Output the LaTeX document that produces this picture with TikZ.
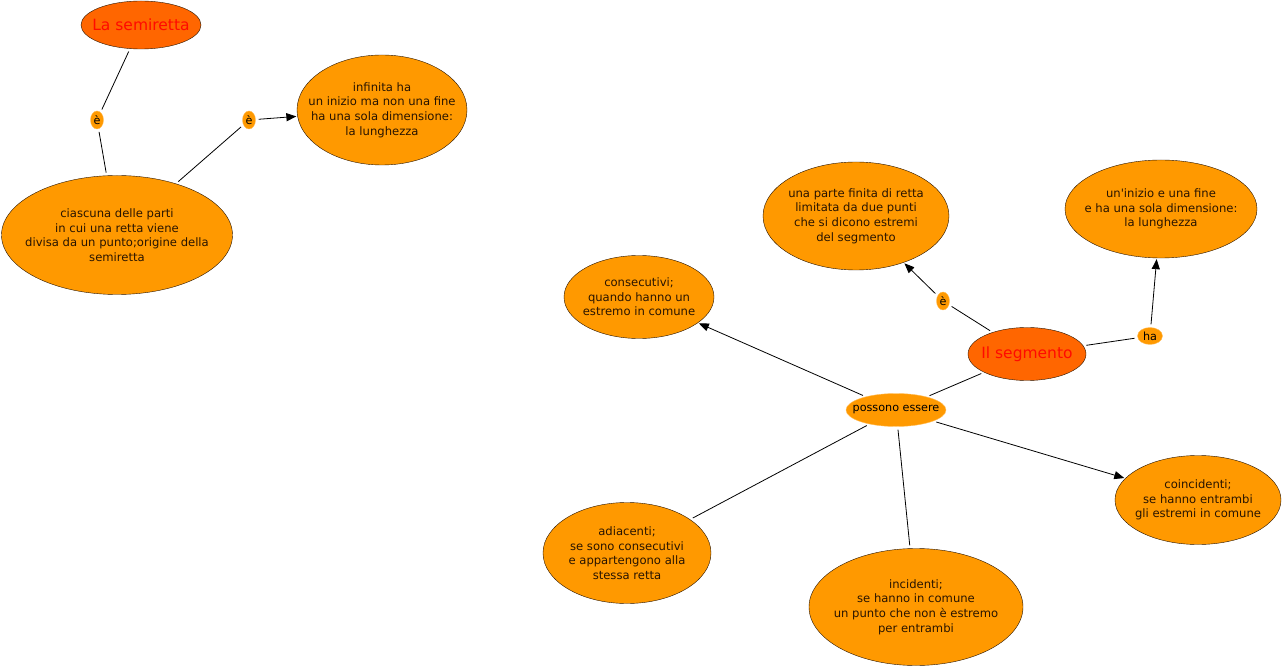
\documentclass[tikz,border=0pt]{standalone}
\usepackage{fontspec}
\setmainfont{DejaVu Sans}
\usepackage{tikz}
\usetikzlibrary{arrows.meta,shapes.geometric}
\definecolor{cmOrange}{RGB}{255,153,0}
\definecolor{cmRoot}{RGB}{255,102,0}
\definecolor{cmRed}{RGB}{255,10,0}
\definecolor{cmLine}{RGB}{40,20,0}
\definecolor{cmText}{RGB}{40,20,0}
\definecolor{cmRim}{RGB}{255,190,90}
\tikzset{
  mapConcept/.style={ellipse, draw=cmLine, thin, fill=cmOrange,
                     inner xsep=-40pt, inner ysep=-10pt,
                     align=center, text=cmText,
                     font=\fontsize{11.6}{14.6}\selectfont},
  mapRoot/.style={ellipse, draw=cmLine, thin, fill=cmRoot,
                  inner xsep=-20pt, inner ysep=0pt,
                  align=center, text=cmRed, font=\fontsize{15.5}{17}\selectfont},
  mapLink/.style={ellipse, draw=cmRim, thin, fill=cmOrange, inner sep=1pt,
                  align=center, text=black, font=\fontsize{11.2}{12}\selectfont},
  mapLine/.style={draw=black, line width=0.8pt, shorten <=3pt, shorten >=3pt},
  mapArrow/.style={mapLine, shorten >=1pt, -{Triangle[length=10pt,width=8pt]}}
}

\begin{document}
\begin{tikzpicture}[x=1pt,y=-1pt]
  \useasboundingbox[fill=white] (0,0) rectangle (1283,668);

  % la semiretta
  \node[mapRoot, minimum width=120pt, minimum height=48pt] (semiretta) at (141,25)
        {La semiretta};
  \node[mapLink, minimum width=13pt, minimum height=18pt] (e1) at (97,120) {è};
  \node[mapConcept, minimum width=231pt, minimum height=119pt] (parti) at (117,235)
        {ciascuna delle parti\\in cui una retta viene\\divisa da un punto;origine della\\semiretta};
  \node[mapLink, minimum width=13pt, minimum height=18pt] (e2) at (249,120) {è};
  \node[mapConcept, minimum width=170pt, minimum height=110pt] (infinita) at (382,110)
        {infinita ha\\un inizio ma non una fine\\ha una sola dimensione:\\la lunghezza};

  % il segmento
  \node[mapRoot, minimum width=118pt, minimum height=53pt] (segmento) at (1027,354)
        {Il segmento};
  \node[mapLink, minimum width=13pt, minimum height=18pt] (e3) at (943,301) {è};
  \node[mapConcept, minimum width=186pt, minimum height=108pt] (finita) at (856,216)
        {una parte finita di retta\\limitata da due punti\\che si dicono estremi\\del segmento};
  \node[mapLink, minimum width=25pt, minimum height=17pt] (ha) at (1150,336) {ha};
  \node[mapConcept, minimum width=192pt, minimum height=98pt] (inizio) at (1161,209)
        {un\textquotesingle inizio e una fine\\e ha una sola dimensione:\\la lunghezza};
  \node[mapLink, inner xsep=-10pt, minimum width=100pt, minimum height=33pt] (possono) at (896,410)
        {possono essere};
  \node[mapConcept, minimum width=150pt, minimum height=83pt] (consecutivi) at (639,297)
        {consecutivi;\\quando hanno un\\estremo in comune};
  \node[mapConcept, minimum width=168pt, minimum height=101pt] (adiacenti) at (627,553)
        {adiacenti;\\se sono consecutivi\\e appartengono alla\\stessa retta};
  \node[mapConcept, minimum width=214pt, minimum height=117pt] (incidenti) at (916,607)
        {incidenti;\\se hanno in comune\\un punto che non è estremo\\per entrambi};
  \node[mapConcept, minimum width=166pt, minimum height=89pt] (coincidenti) at (1198,500)
        {coincidenti;\\se hanno entrambi\\gli estremi in comune};

  \draw[mapLine] (semiretta) -- (e1);
  \draw[mapLine] (e1) -- (parti);
  \draw[mapLine] (parti) -- (e2);
  \draw[mapArrow] (e2) -- (infinita);
  \draw[mapLine] (segmento) -- (e3);
  \draw[mapArrow] (e3) -- (finita);
  \draw[mapLine] (segmento) -- (ha);
  \draw[mapArrow] (ha) -- (inizio);
  \draw[mapLine] (segmento) -- (possono);
  \draw[mapArrow] (possono) -- (consecutivi);
  \draw[mapLine] (possono) -- (adiacenti);
  \draw[mapLine] (possono) -- (incidenti);
  \draw[mapArrow] (possono) -- (coincidenti);
\end{tikzpicture}
\end{document}
